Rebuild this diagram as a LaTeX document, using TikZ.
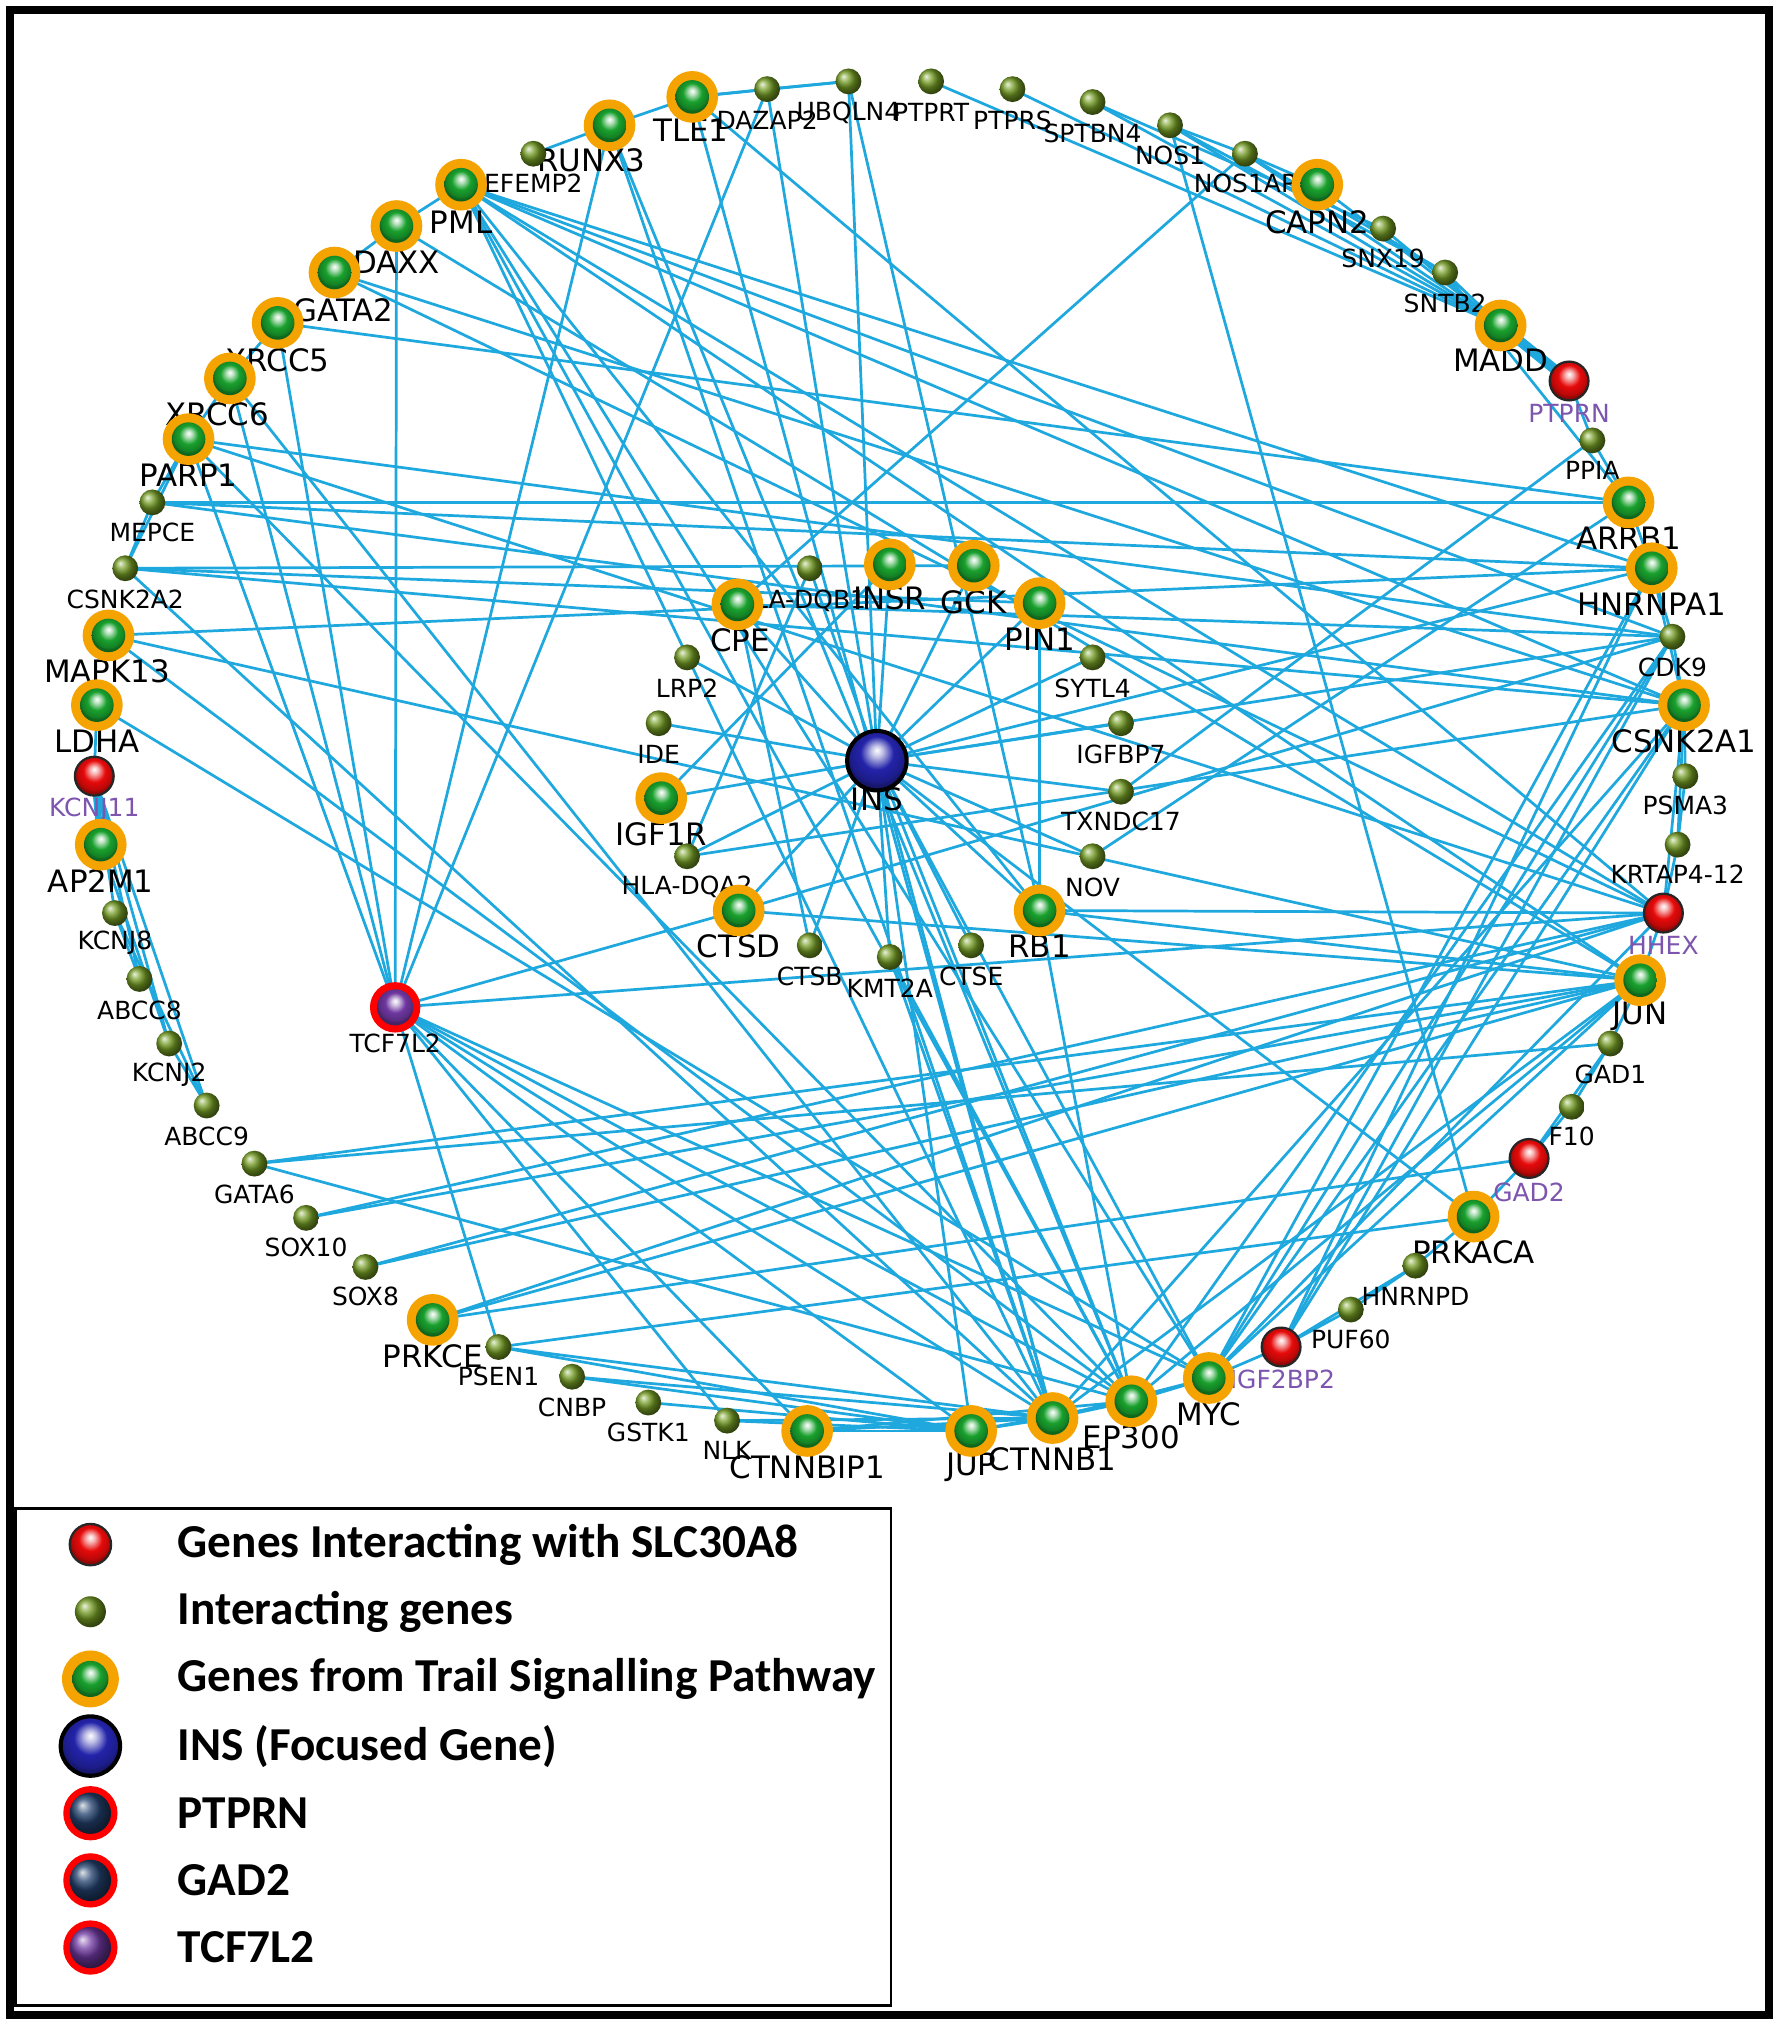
\documentclass[tikz,border=0pt]{standalone}
\usepackage{fontspec}
\setmainfont{DejaVu Sans}
\newfontfamily\legfont{Carlito}
\definecolor{edgeblue}{RGB}{30,168,222}
\definecolor{ringor}{RGB}{245,163,0}
\definecolor{pwgreen}{RGB}{25,160,45}
\definecolor{intgreen}{RGB}{115,155,35}
\definecolor{lblpurple}{RGB}{125,85,175}
\definecolor{insblue}{RGB}{35,35,170}
\definecolor{navyball}{RGB}{35,65,110}
\definecolor{tcfpurple}{RGB}{110,55,160}
\definecolor{redball}{RGB}{230,10,10}
\colorlet{gcol}{pwgreen}
\pgfdeclareradialshading[gcol]{glossy}{\pgfqpoint{0bp}{9bp}}{color(0bp)=(white); color(5bp)=(gcol!30!white); color(14bp)=(gcol); color(23bp)=(gcol!80!black); color(25bp)=(gcol!65!black); color(50bp)=(gcol!40!black)}
\begin{document}
\def\pwlist{TLE1/536/75/535/101, RUNX3/472/97/458/124, PML/357/143/357/172, DAXX/307/175/307/203, GATA2/259/211/266/240, XRCC5/215/250/215/279, XRCC6/178/293/168/321, PARP1/146/340/146/368, MAPK13/84/492/83/520, LDHA/75/546/75/574, AP2M1/78/654/78/682, CAPN2/1020/143/1020/172, MADD/1162/252/1162/279, ARRB1/1261/389/1261/417, HNRNPA1/1279/440/1279/468, CSNK2A1/1304/546/1304/574, JUN/1270/759/1270/787, PRKACA/1141/942/1141/970, MYC/936/1067/936/1095, EP300/876/1085/876/1113, CTNNB1/815/1098/815/1130, JUP/752/1108/752/1136, CTNNBIP1/625/1108/625/1136, PRKCE/335/1022/335/1050, INSR/689/437/689/463, GCK/754/438/754/466, PIN1/805/467/805/495, CPE/571/468/573/496, IGF1R/512/618/512/646, CTSD/572/705/572/733, RB1/805/705/805/733}
\def\grlist{DAZAP2/DAZAP2/594/69/594/93, UBQLN4/UBQLN4/657/63/657/87, PTPRT/PTPRT/721/63/721/87, PTPRS/PTPRS/784/69/784/93, SPTBN4/SPTBN4/846/79/846/103, NOS1/NOS1/906/97/906/120, NOS1AP/NOS1AP/964/119/964/142, EFEMP2/EFEMP2/413/119/413/142, SNX19/SNX19/1071/177/1071/200, SNTB2/SNTB2/1119/211/1119/235, PPIA/PPIA/1233/341/1233/364, CDK9/CDK9/1295/493/1295/517, PSMA3/PSMA3/1305/601/1305/624, KRTAP/KRTAP4-12/1299/654/1299/677, GAD1/GAD1/1247/808/1247/832, F10/F10/1217/857/1217/880, HNRNPD/HNRNPD/1096/980/1096/1004, PUF60/PUF60/1046/1014/1046/1037, MEPCE/MEPCE/118/389/118/412, CSNK2A2/CSNK2A2/97/440/97/464, KCNJ8/KCNJ8/89/707/89/730, ABCC8/ABCC8/108/758/108/782, KCNJ2/KCNJ2/131/808/131/832, ABCC9/ABCC9/160/856/160/880, GATA6/GATA6/197/901/197/925, SOX10/SOX10/237/943/237/966, SOX8/SOX8/283/981/283/1004, PSEN1/PSEN1/386/1043/386/1066, CNBP/CNBP/443/1066/443/1090, GSTK1/GSTK1/502/1086/502/1109, NLK/NLK/563/1100/563/1123, HLADQB1/HLA-DQB1/627/440/620/465, LRP2/LRP2/532/509/532/533, IDE/IDE/510/560/510/584, HLADQA2/HLA-DQA2/532/663/532/687, CTSB/CTSB/627/732/627/756, KMT2A/KMT2A/689/741/689/765, CTSE/CTSE/752/732/752/756, NOV/NOV/846/663/846/687, TXNDC17/TXNDC17/868/613/868/636, IGFBP7/IGFBP7/868/560/868/584, SYTL4/SYTL4/846/509/846/533}
\def\rdlist{PTPRN/1215/295/1215/320, KCNJ11/73/601/73/627, HHEX/1288/707/1288/732, GAD2/1184/897/1184/923, IGF2BP2/992/1043/993/1068}
\begin{tikzpicture}[x=0.01cm,y=-0.01cm,
  biglbl/.style={font=\fontsize{6.8}{8}\selectfont, text=black, inner sep=0pt},
  smlbl/.style={font=\fontsize{5.5}{6.5}\selectfont, text=black, inner sep=0pt},
  purplbl/.style={font=\fontsize{5.5}{6.5}\selectfont, text=lblpurple, inner sep=0pt},
  edge/.style={draw=edgeblue, line width=0.6pt},
  gball/.style={/utils/exec={\colorlet{gcol}{#1}}, shading=glossy},
  legtext/.style={font=\legfont\bfseries\fontsize{10.4}{12}\selectfont, anchor=west, inner sep=0pt}]
\useasboundingbox (0,0) rectangle (1378,1568);
\fill[white] (0,0) rectangle (1378,1568);
% coordinates
\foreach \id/\px/\py/\lx/\ly in \pwlist {\coordinate (\id) at (\px,\py);}
\foreach \id/\txt/\px/\py/\lx/\ly in \grlist {\coordinate (\id) at (\px,\py);}
\foreach \id/\px/\py/\lx/\ly in \rdlist {\coordinate (\id) at (\px,\py);}
\coordinate (TCF7L2) at (306,780);
\coordinate (INS) at (679,589);
% edges
\foreach \a/\b in {RUNX3/TLE1, TLE1/DAZAP2, DAZAP2/UBQLN4, TLE1/UBQLN4, EFEMP2/RUNX3, PML/DAXX, DAXX/GATA2, XRCC5/XRCC6, XRCC6/PARP1, PARP1/MEPCE, MEPCE/CSNK2A2, PARP1/CSNK2A2,
 LDHA/KCNJ11, KCNJ11/KCNJ8, KCNJ11/ABCC8, KCNJ11/KCNJ2, KCNJ11/ABCC9, KCNJ8/ABCC8, KCNJ8/ABCC9, KCNJ2/ABCC9, AP2M1/KCNJ2,
 NOS1/NOS1AP, NOS1AP/CAPN2, CAPN2/MADD, SNX19/MADD, SNTB2/MADD, NOS1AP/MADD, NOS1/MADD, SPTBN4/MADD, PTPRS/MADD, PTPRT/MADD, NOS1/SNTB2, SPTBN4/SNX19, NOS1AP/SNTB2,
 PTPRN/PPIA, PPIA/ARRB1, SNTB2/ARRB1, ARRB1/HNRNPA1, HNRNPA1/CDK9, CDK9/CSNK2A1, HNRNPA1/CSNK2A1, CSNK2A1/PSMA3, PSMA3/KRTAP, CSNK2A1/KRTAP, KRTAP/HHEX, CSNK2A1/HHEX, HHEX/JUN, JUN/GAD1, GAD1/F10, F10/GAD2, GAD1/GAD2, GAD2/PRKACA, PRKACA/HNRNPD, HNRNPD/PUF60, PUF60/IGF2BP2, HNRNPD/IGF2BP2, IGF2BP2/MYC, MYC/EP300, EP300/CTNNB1, CTNNB1/JUP, JUP/CTNNBIP1, CTNNB1/CTNNBIP1, NLK/CTNNB1, NLK/JUP, GSTK1/JUP, CNBP/CTNNB1, CNBP/JUP, PSEN1/CTNNB1, PSEN1/JUP, EP300/JUP, MYC/CTNNB1, CTNNBIP1/EP300,
 INS/INSR, INS/GCK, INS/PIN1, INS/CPE, INS/HLADQB1, INS/LRP2, INS/IDE, INS/IGF1R, INS/HLADQA2, INS/CTSD, INS/CTSB, INS/KMT2A, INS/CTSE, INS/RB1, INS/NOV, INS/TXNDC17, INS/IGFBP7, INS/SYTL4, INS/UBQLN4, INS/DAZAP2, INS/CTNNB1, INS/EP300, INS/MYC, INS/JUP, INS/CDK9, INS/HNRNPA1, INS/PRKACA,
 IGF1R/INSR, HLADQB1/HLADQA2, PIN1/RB1, CPE/CTSB,
 TCF7L2/DAXX, TCF7L2/XRCC5, TCF7L2/XRCC6, TCF7L2/PARP1, TCF7L2/RUNX3, TCF7L2/DAZAP2, TCF7L2/CTSD, TCF7L2/HHEX, TCF7L2/CTNNB1, TCF7L2/JUP, TCF7L2/CTNNBIP1, TCF7L2/EP300, TCF7L2/MYC, TCF7L2/NLK, TCF7L2/PSEN1,
 PML/HNRNPA1, PML/CDK9, PML/CSNK2A1, PML/JUN, PML/HHEX, PML/CTNNB1, PML/EP300, PML/MYC, PML/RB1,
 GATA2/CSNK2A1, GATA2/HHEX, XRCC5/ARRB1, XRCC6/CTNNB1, PARP1/CDK9, PARP1/HHEX, PARP1/EP300, DAXX/JUN,
 MEPCE/HNRNPA1, MEPCE/ARRB1, MEPCE/CSNK2A1, CSNK2A2/CSNK2A1, CSNK2A2/PIN1, CSNK2A2/CTNNB1, CSNK2A2/GCK,
 MAPK13/HNRNPA1, MAPK13/JUN, MAPK13/EP300, LDHA/MYC,
 RUNX3/CTNNB1, RUNX3/EP300, TLE1/HHEX, TLE1/CTNNB1, UBQLN4/RB1, NOS1AP/CPE, NOS1/PRKACA, PPIA/TXNDC17, ARRB1/NOV,
 GATA6/JUN, GATA6/EP300, GATA6/GAD1, SOX10/HHEX, SOX10/JUN, SOX8/HHEX, SOX8/JUN, PRKCE/JUN, PRKCE/GAD2, PRKCE/HHEX, PSEN1/PRKACA,
 IGF2BP2/HNRNPA1, IGF2BP2/CDK9, IGF2BP2/CSNK2A1, MYC/CDK9, MYC/CSNK2A1, MYC/HNRNPA1, MYC/JUN, MYC/HHEX, EP300/JUN, EP300/CDK9, CTNNB1/CSNK2A1, CTNNB1/JUN, RB1/HHEX, RB1/JUN, RB1/EP300, KMT2A/CTNNB1, KMT2A/EP300, HLADQA2/CSNK2A1, CTSD/CDK9, CTSD/JUN, CPE/CDK9}
 {\draw[edge] (\a) -- (\b);}
\draw[edgeblue, line width=2.2pt] (MADD) -- (PTPRN);
\draw[edgeblue, line width=1.4pt] (KCNJ11) -- (AP2M1);
% labels
\foreach \id/\px/\py/\lx/\ly in \pwlist {\node[biglbl] at (\lx,\ly) {\id};}
\foreach \id/\txt/\px/\py/\lx/\ly in \grlist {\node[smlbl] at (\lx,\ly) {\txt};}
\foreach \id/\px/\py/\lx/\ly in \rdlist {\node[purplbl] at (\lx,\ly) {\id};}
\node[smlbl] at (306,808) {TCF7L2};
\node[biglbl] at (679,619) {INS};
% nodes
\foreach \id/\px/\py/\lx/\ly in \pwlist {\fill[ringor] (\id) circle (0.2cm); \shade[gball=pwgreen] (\id) circle (0.13cm);}
\foreach \id/\txt/\px/\py/\lx/\ly in \grlist {\shade[ball color=intgreen] (\id) circle (0.1cm);}
\foreach \id/\px/\py/\lx/\ly in \rdlist {\shade[gball=redball] (\id) circle (0.15cm); \draw[black!85, line width=0.5pt] (\id) circle (0.15cm);}
\fill[red] (TCF7L2) circle (0.195cm); \shade[gball=tcfpurple] (TCF7L2) circle (0.14cm);
\shade[gball=insblue] (INS) circle (0.23cm); \draw[black, line width=0.9pt] (INS) circle (0.23cm);
% legend
\draw[black, line width=0.6pt] (12,1168) rectangle (690,1553);
\coordinate (lg1) at (70,1196); \coordinate (lg2) at (70,1248); \coordinate (lg3) at (70,1300); \coordinate (lg4) at (70,1352);
\coordinate (lg5) at (70,1404); \coordinate (lg6) at (70,1456); \coordinate (lg7) at (70,1508);
\shade[gball=redball] (lg1) circle (0.16cm); \draw[black!85, line width=0.5pt] (lg1) circle (0.16cm);
\shade[ball color=intgreen] (lg2) circle (0.12cm);
\fill[ringor] (lg3) circle (0.22cm); \shade[gball=pwgreen] (lg3) circle (0.14cm);
\shade[gball=insblue] (lg4) circle (0.23cm); \draw[black, line width=0.9pt] (lg4) circle (0.23cm);
\fill[red] (lg5) circle (0.21cm); \shade[ball color=navyball] (lg5) circle (0.16cm);
\fill[red] (lg6) circle (0.21cm); \shade[ball color=navyball] (lg6) circle (0.16cm);
\fill[red] (lg7) circle (0.21cm); \shade[ball color=tcfpurple] (lg7) circle (0.16cm);
\node[legtext] (lt1) at (137,1196) {Genes Interacting with SLC30A8};
\node[legtext] (lt2) at (137,1248) {Interacting genes};
\node[legtext] (lt3) at (137,1300) {Genes from Trail Signalling Pathway};
\node[legtext] (lt4) at (137,1352) {INS (Focused Gene)};
\node[legtext] (lt5) at (137,1404) {PTPRN};
\node[legtext] (lt6) at (137,1456) {GAD2};
\node[legtext] (lt7) at (137,1508) {TCF7L2};
% frame
\draw[black, line width=1.7pt] (8,8) rectangle (1370,1560);
\end{tikzpicture}
\end{document}
